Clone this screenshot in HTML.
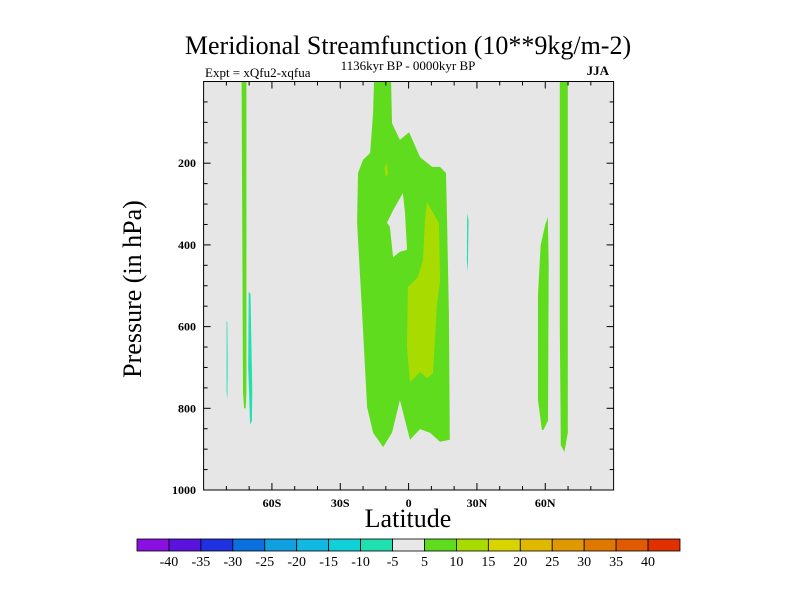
<!DOCTYPE html>
<html><head><meta charset="utf-8">
<style>
html,body{margin:0;padding:0;background:#fff;width:800px;height:600px;overflow:hidden}
svg{display:block;font-family:"Liberation Serif",serif}
</style></head>
<body>
<svg id="chart" width="800" height="600" viewBox="0 0 800 600">
<text x="408" y="54" text-anchor="middle" font-size="26">Meridional Streamfunction (10**9kg/m-2)</text>
<text x="205" y="77" font-size="13">Expt = xQfu2-xqfua</text>
<text x="408" y="70" text-anchor="middle" font-size="13">1136kyr BP - 0000kyr BP</text>
<text x="609" y="75" text-anchor="end" font-size="13" font-weight="bold">JJA</text>
<text x="408" y="527" text-anchor="middle" font-size="26">Latitude</text>
<text transform="translate(141,289) rotate(-90)" text-anchor="middle" font-size="26">Pressure (in hPa)</text>
<g id="plot"></g>
<g id="cbar"></g>
</svg>
<script>
// ---- data ----
const latTicks = [-60, -30, 0, 30, 60];
const latTickLabels = ['60S', '30S', '0', '30N', '60N'];
const pTicks = [200, 400, 600, 800, 1000];
const pTickLabels = ['200', '400', '600', '800', '1000'];
const levels = [-40,-35,-30,-25,-20,-15,-10,-5,5,10,15,20,25,30,35,40];
const levelColors = ['#8a10e0','#5a12dd','#2032e0','#0a70e0','#10a0e0','#10b8e2','#10d0d8','#20e0b0','#e8e8e8','#60dc1e','#a8dc00','#d8d400','#e0b800','#e09800','#e07800','#e05a00','#e03000'];
// contour regions: [lat, pressure] pairs
const mainLat = [-15.2,-7.7,-7.3,-3.8,0.2,5.0,10.3,13.8,16.4,16.8,17.7,18.1,13.8,9.4,5.0,0.6,-3.8,-7.3,-11.2,-15.6,-18.2,-20.4,-22.6,-22.2,-20.0,-16.9,-15.6];
const mainP = [0,0,102,143,124,185,209,209,224,322,567,877,882,860,851,877,780,860,895,860,797,567,346,224,192,175,77];
const holeLat = [-2.5,-1.6,-0.7,-3.8,-6.8,-8.2,-9.5,-6.8];
const holeP = [273,322,412,417,430,356,346,315];
const coreLat = [8.1,13.3,13.8,12.4,10.7,8.1,5.0,0.6,-0.7,-0.3,4.1,6.3,7.2];
const coreP = [295,346,486,552,714,726,711,736,650,503,479,437,339];
const dotLat = [-10.5,-9.6,-9.1,-10.0];
const dotP = [212,198,226,234];
const sStripLat = [-73.3,-71.2,-71.2,-71.5,-72.2,-72.7];
const sStripP = [0,0,760,800,800,760];
const sCyanALat = [-79.9,-79.6,-79.4,-79.6,-79.9];
const sCyanAP = [585,590,700,780,760];
const sCyanBLat = [-70.2,-69.4,-68.6,-68.8,-69.6,-70.4];
const sCyanBP = [515,520,760,830,840,700];
const nStripLat = [66.4,69.9,69.9,68.4,66.8,66.4];
const nStripP = [0,0,860,907,890,600];
const nOvalLat = [61.1,61.5,61.2,59.2,58.5,56.8,56.8,58.0,60.0];
const nOvalP = [332,450,830,853,853,780,520,400,350];
const nCyanLat = [25.7,26.3,26.0,25.6];
const nCyanP = [323,340,466,440];

// ---- axes ----
const X0=203.6, X1=613.6, Y0=81.5, Y1=490;
const xS = lat => X0 + (lat+90)/180*(X1-X0);
const yS = p => Y0 + p/1000*(Y1-Y0);
const NS='http://www.w3.org/2000/svg';
const plot=document.getElementById('plot');
function mk(tag, attrs, parent){const e=document.createElementNS(NS,tag);for(const k in attrs)e.setAttribute(k,attrs[k]);(parent||plot).appendChild(e);return e;}

const bg=mk('rect',{x:X0,y:Y0,width:X1-X0,height:Y1-Y0,fill:'#e6e6e6'});



function poly(lats, ps, color, name){
  const pts=lats.map((l,i)=>xS(l).toFixed(1)+','+yS(ps[i]).toFixed(1)).join(' ');
  const e=mk('polygon',{points:pts,fill:color});
  
  
}
const G=levelColors[9], YG=levelColors[10], C=levelColors[7];
poly(mainLat, mainP, G, 'contour-tropical-cell');
poly(holeLat, holeP, '#e6e6e6', 'contour-tropical-gap');
poly(coreLat, coreP, YG, 'contour-tropical-core');
poly(dotLat, dotP, YG, 'contour-small-core');
poly(sStripLat, sStripP, G, 'contour-southern-strip');
poly(sCyanALat, sCyanAP, C, 'contour-southern-negative-a');
poly(sCyanBLat, sCyanBP, C, 'contour-southern-negative-b');
poly(nStripLat, nStripP, G, 'contour-northern-strip');
poly(nOvalLat, nOvalP, G, 'contour-northern-oval');
poly(nCyanLat, nCyanP, C, 'contour-northern-negative');

// ticks
for(let lat=-80; lat<=80; lat+=10){
  const major = lat%30===0;
  const len = major?7:4;
  const x=xS(lat);
  const t1=mk('line',{x1:x,x2:x,y1:Y1,y2:Y1-len,stroke:'#000','stroke-width':1});
  
  
  const t2=mk('line',{x1:x,x2:x,y1:Y0,y2:Y0+len,stroke:'#000','stroke-width':1});
  
  
}
latTicks.forEach((lat,i)=>{
  const t=mk('text',{x:xS(lat),y:Y1+17,'text-anchor':'middle','font-size':12,'font-weight':'bold'});
  t.textContent=latTickLabels[i];
  
  
});
for(let p=50; p<1000; p+=50){
  const major = p%200===0;
  const len = major?7:4;
  const y=yS(p);
  const t1=mk('line',{x1:X0,x2:X0+len,y1:y,y2:y,stroke:'#000','stroke-width':1});
  
  
  const t2=mk('line',{x1:X1,x2:X1-len,y1:y,y2:y,stroke:'#000','stroke-width':1});
  
  
}
pTicks.forEach((p,i)=>{
  const t=mk('text',{x:196,y:yS(p)+4,'text-anchor':'end','font-size':12,'font-weight':'bold'});
  t.textContent=pTickLabels[i];
  
  
});
const frame=mk('rect',{x:X0,y:Y0,width:X1-X0,height:Y1-Y0,fill:'none',stroke:'#000','stroke-width':1});



// colorbar
const cb=document.getElementById('cbar');
const CB0=137, CB1=680, CBY=539, CBH=12;
const bw=(CB1-CB0)/levelColors.length;
levelColors.forEach((c,i)=>{
  const r=mk('rect',{x:CB0+i*bw,y:CBY,width:bw,height:CBH,fill:c,stroke:'#000','stroke-width':0.8},cb);
  
  
});
levels.forEach((v,i)=>{
  const t=mk('text',{x:CB0+(i+1)*bw,y:CBY+CBH+15,'text-anchor':'middle','font-size':14},cb);
  t.textContent=String(v);
  
  
});
</script>
</body></html>
